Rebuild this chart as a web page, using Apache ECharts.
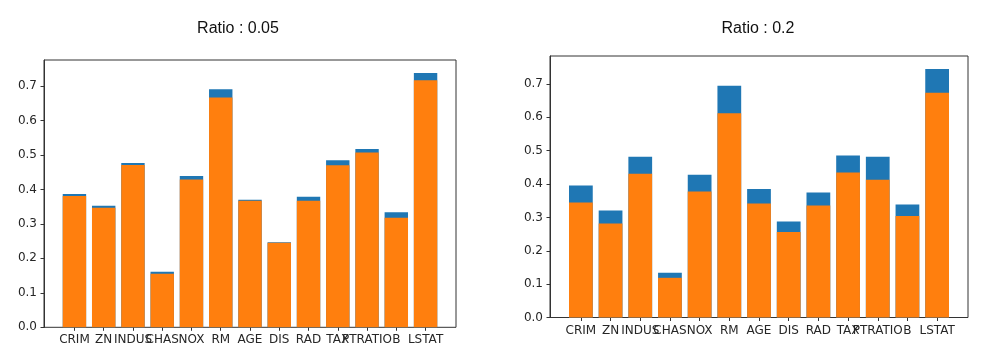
<!DOCTYPE html>
<html>
<head>
<meta charset="utf-8">
<script src="https://cdn.jsdelivr.net/npm/echarts@6/dist/echarts.min.js"></script>
<style>html,body{margin:0;padding:0;background:#fff}#c{width:981px;height:362px}</style>
</head>
<body>
<div id="c"></div>
<script>
const categories = ['CRIM','ZN','INDUS','CHAS','NOX','RM','AGE','DIS','RAD','TAX','PTRATIO','B','LSTAT'];
const titles = ['Ratio : 0.05', 'Ratio : 0.2'];
const yTicks = [0, 0.1, 0.2, 0.3, 0.4, 0.5, 0.6, 0.7];
// Ratio 0.05
const blue005   = [0.387, 0.353, 0.477, 0.161, 0.439, 0.691, 0.370, 0.247, 0.379, 0.485, 0.517, 0.334, 0.738];
const orange005 = [0.381, 0.347, 0.471, 0.155, 0.429, 0.667, 0.367, 0.245, 0.367, 0.470, 0.507, 0.318, 0.717];
// Ratio 0.2
const blue02    = [0.396, 0.321, 0.482, 0.134, 0.428, 0.695, 0.385, 0.288, 0.375, 0.486, 0.482, 0.339, 0.745];
const orange02  = [0.345, 0.282, 0.431, 0.119, 0.378, 0.612, 0.342, 0.256, 0.336, 0.435, 0.413, 0.304, 0.674];

const chart = echarts.init(document.getElementById('c'));
const panels = [
  {left:44, top:60, width:412, height:267.3, max:0.7755, blue:blue005, orange:orange005, title:titles[0]},
  {left:550, top:56, width:418, height:261.5, max:0.784, blue:blue02, orange:orange02, title:titles[1]}
];
const grid=[], xAxis=[], yAxis=[], series=[], title=[];
const txt = '#262626', font = 'DejaVu Sans';
panels.forEach((p,i)=>{
  const inset = p.width*0.54/14.08;
  // frame grid
  grid.push({left:p.left, top:p.top, width:p.width, height:p.height, show:true, borderColor:'#333', borderWidth:1, backgroundColor:'transparent', containLabel:false});
  // bar grid
  grid.push({left:p.left+inset, top:p.top, width:p.width-2*inset, height:p.height, containLabel:false});
  xAxis.push({gridIndex:2*i, type:'value', min:0, max:1, show:false});
  yAxis.push({gridIndex:2*i, type:'value', min:0, max:p.max, interval:0.1,
    axisLine:{show:true, lineStyle:{color:'#333'}},
    axisTick:{show:true, length:3.5, lineStyle:{color:'#333'}},
    axisLabel:{show:true, showMaxLabel:false, margin:7, color:txt, fontFamily:font, fontSize:12,
      formatter:v=>{ const t = yTicks.find(x=>Math.abs(x-v)<1e-6); return t===undefined?'':t.toFixed(1);} },
    splitLine:{show:false}});
  xAxis.push({gridIndex:2*i+1, type:'category', data:categories, boundaryGap:true,
    axisLine:{show:false},
    axisTick:{show:true, alignWithLabel:true, length:3.5, inside:false, lineStyle:{color:'#333'}},
    axisLabel:{interval:0, margin:7, color:txt, fontFamily:font, fontSize:12, hideOverlap:false}});
  yAxis.push({gridIndex:2*i+1, type:'value', min:0, max:p.max, show:false});
  series.push({type:'bar', xAxisIndex:2*i+1, yAxisIndex:2*i+1, data:p.blue, barGap:'-100%', barCategoryGap:'20%', itemStyle:{color:'#1f77b4'}, animation:false, z:2});
  series.push({type:'bar', xAxisIndex:2*i+1, yAxisIndex:2*i+1, data:p.orange, barGap:'-100%', barCategoryGap:'20%', itemStyle:{color:'#ff7f0e'}, animation:false, z:3});
});
title.push({text:titles[0], left:233, top:16, textAlign:'center', textStyle:{fontFamily:'Liberation Sans', fontSize:16, fontWeight:'normal', color:'#111'}});
title.push({text:titles[1], left:753, top:16, textAlign:'center', textStyle:{fontFamily:'Liberation Sans', fontSize:16, fontWeight:'normal', color:'#111'}});
chart.setOption({animation:false, title, grid, xAxis, yAxis, series});
</script>
</body>
</html>
